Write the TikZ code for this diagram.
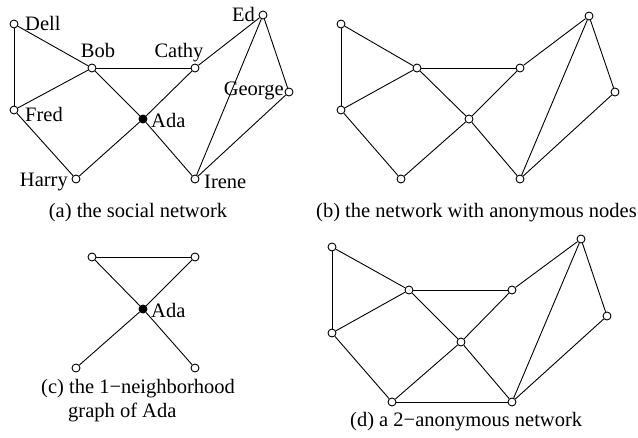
\documentclass[tikz,border=0pt]{standalone}
\usepackage{fontspec}
\setmainfont{Liberation Serif}
\begin{document}
\begin{tikzpicture}[x=1pt,y=-1pt,
  vtx/.style={circle,draw,fill=white,inner sep=0pt,minimum size=8pt,line width=0.9pt},
  adavtx/.style={vtx,fill=black},
  link/.style={line width=0.9pt},
  lbl/.style={inner sep=0pt,font=\fontsize{20.5}{24}\selectfont},
  captxt/.style={inner sep=0pt,font=\fontsize{20.5}{24}\selectfont}]
\useasboundingbox (0,0) rectangle (638,437);
% ---------- (a)
\node[vtx] (aD) at (14,24) {};
\node[vtx] (aB) at (92,68) {};
\node[vtx] (aC) at (195,68) {};
\node[vtx] (aE) at (263,15) {};
\node[vtx] (aG) at (289,92) {};
\node[vtx] (aF) at (14,110) {};
\node[adavtx] (aA) at (143,119) {};
\node[vtx] (aH) at (76,179) {};
\node[vtx] (aI) at (195,179) {};
\draw[link] (aD) -- (aF);
\draw[link] (aD) -- (aB);
\draw[link] (aB) -- (aF);
\draw[link] (aB) -- (aC);
\draw[link] (aB) -- (aA);
\draw[link] (aC) -- (aA);
\draw[link] (aC) -- (aE);
\draw[link] (aF) -- (aH);
\draw[link] (aH) -- (aA);
\draw[link] (aA) -- (aI);
\draw[link] (aE) -- (aI);
\draw[link] (aE) -- (aG);
\draw[link] (aG) -- (aI);
\node[lbl,anchor=base west] (tD) at (25,30) {Dell};
\node[lbl,anchor=base] (tB) at (98,57) {Bob};
\node[lbl,anchor=base] (tC) at (179,57) {Cathy};
\node[lbl,anchor=base east] (tE) at (255,21) {Ed};
\node[lbl,anchor=base east] (tG) at (284,95) {George};
\node[lbl,anchor=base west] (tF) at (25,121) {Fred};
\node[lbl,anchor=base west] (tA) at (151,127) {Ada};
\node[lbl,anchor=base east] (tH) at (68,186) {Harry};
\node[lbl,anchor=base west] (tI) at (204,188) {Irene};
\node[captxt,anchor=base] (capa) at (138,217) {(a) the social network};
% ---------- (b)
\node[vtx] (bD) at (341,24) {};
\node[vtx] (bB) at (417,68) {};
\node[vtx] (bC) at (520,68) {};
\node[vtx] (bE) at (589,16) {};
\node[vtx] (bG) at (615,92) {};
\node[vtx] (bF) at (341,110) {};
\node[vtx] (bA) at (469,119) {};
\node[vtx] (bH) at (401,179) {};
\node[vtx] (bI) at (520,179) {};
\draw[link] (bD) -- (bF);
\draw[link] (bD) -- (bB);
\draw[link] (bB) -- (bF);
\draw[link] (bB) -- (bC);
\draw[link] (bB) -- (bA);
\draw[link] (bC) -- (bA);
\draw[link] (bC) -- (bE);
\draw[link] (bF) -- (bH);
\draw[link] (bH) -- (bA);
\draw[link] (bA) -- (bI);
\draw[link] (bE) -- (bI);
\draw[link] (bE) -- (bG);
\draw[link] (bG) -- (bI);
\node[captxt,anchor=base west] (capb) at (316,217) {(b) the network with anonymous nodes};
% ---------- (c)
\node[vtx] (cB) at (92,257) {};
\node[vtx] (cC) at (195,257) {};
\node[adavtx] (cA) at (143,309) {};
\node[vtx] (cH) at (76,368) {};
\node[vtx] (cI) at (195,368) {};
\draw[link] (cB) -- (cC);
\draw[link] (cB) -- (cA);
\draw[link] (cC) -- (cA);
\draw[link] (cH) -- (cA);
\draw[link] (cA) -- (cI);
\node[lbl,anchor=base west] (tcA) at (151,317) {Ada};
\node[captxt,anchor=base west] (capc1) at (41,393) {(c) the 1−neighborhood};
\node[captxt,anchor=base west] (capc2) at (68,417) {graph of Ada};
% ---------- (d)
\node[vtx] (dD) at (332,247) {};
\node[vtx] (dB) at (409,290) {};
\node[vtx] (dC) at (512,290) {};
\node[vtx] (dE) at (581,239) {};
\node[vtx] (dG) at (607,316) {};
\node[vtx] (dF) at (332,333) {};
\node[vtx] (dA) at (461,342) {};
\node[vtx] (dH) at (392,402) {};
\node[vtx] (dI) at (512,402) {};
\draw[link] (dD) -- (dF);
\draw[link] (dD) -- (dB);
\draw[link] (dB) -- (dF);
\draw[link] (dB) -- (dC);
\draw[link] (dB) -- (dA);
\draw[link] (dC) -- (dA);
\draw[link] (dC) -- (dE);
\draw[link] (dF) -- (dH);
\draw[link] (dH) -- (dA);
\draw[link] (dA) -- (dI);
\draw[link] (dE) -- (dI);
\draw[link] (dE) -- (dG);
\draw[link] (dG) -- (dI);
\draw[link] (dH) -- (dI);
\node[captxt,anchor=base west] (capd) at (350,426) {(d) a 2−anonymous network};
\end{tikzpicture}
\end{document}
